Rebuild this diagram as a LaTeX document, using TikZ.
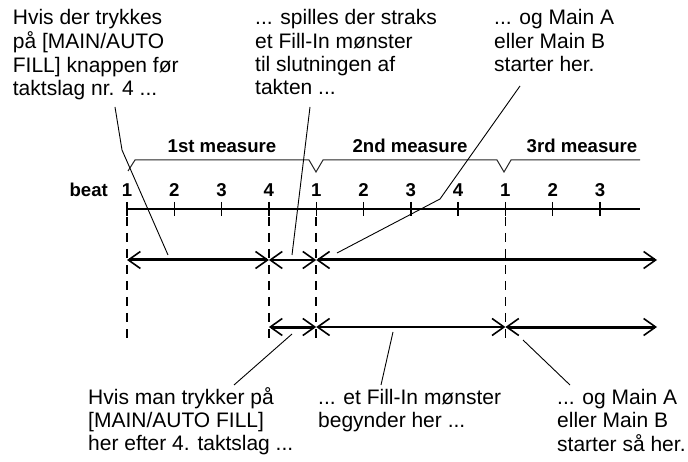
\documentclass[tikz,border=0pt]{standalone}
\usepackage{fontspec}
\setmainfont{Liberation Sans}
\usetikzlibrary{arrows.meta}
\newcommand{\txtlines}[1]{\begin{tabular}[t]{@{}l@{}}#1\end{tabular}}
\begin{document}
\begin{tikzpicture}[x=1pt,y=-1pt,
  callout/.style={inner sep=0pt, anchor=base west, font=\fontsize{21}{23.3}\selectfont},
  boldlbl/.style={inner sep=0pt, anchor=base, font=\bfseries\fontsize{18.6}{20}\selectfont},
  leader/.style={line width=0.9pt},
  brace/.style={line width=1pt, black!85, line join=miter},
  axis/.style={line width=1.8pt},
  tickmark/.style={line width=1.4pt},
  guide/.style={line width=1.6pt, dash pattern=on 9pt off 7pt},
  span/.style={line width=3pt},
  thinspan/.style={line width=1.3pt},
  >={Straight Barb[length=12pt,width=17pt,line width=1.6pt]},
]
\useasboundingbox (0,0) rectangle (688,462);

% beats
\foreach \i/\lab in {0/1,1/2,2/3,3/4,4/1,5/2,6/3,7/4,8/1,9/2,10/3} {
  \pgfmathsetmacro\bx{127+47.3*\i}
  \draw[tickmark] (\bx,202) -- (\bx,216);
  \node[boldlbl] (n\i) at (\bx,197) {\lab};
}
\node[boldlbl, anchor=base east] (beatlbl) at (108,197) {beat};

% measures
\node[boldlbl] (m1) at (222,153) {1st measure};
\node[boldlbl] (m2) at (410,153) {2nd measure};
\node[boldlbl] (m3) at (582,153) {3rd measure};
\draw[brace] (128,171) -- (135,160) -- (309,160) -- (316,172) -- (323,160)
  -- (497,160) -- (504,172) -- (511,160) -- (640,160);

% axis
\coordinate (ax0) at (127,209);
\coordinate (ax1) at (640,209);
\draw[axis] (ax0) -- (ax1);

% guides
\foreach \gx in {127,268.9,316.2,505.4} {
  \draw[guide] (\gx,217) -- (\gx,343);
}

% spans
\coordinate (a1) at (127,260);
\coordinate (a4) at (268.9,260);
\coordinate (a5) at (316.2,260);
\coordinate (aend) at (657,260);
\coordinate (b4) at (268.9,327);
\coordinate (b5) at (316.2,327);
\coordinate (b9) at (505.4,327);
\coordinate (bend) at (657,327);
\draw[span,<->] (a1) -- (a4);
\draw[thinspan,<->] (a4) -- (a5);
\draw[span,<->] (a5) -- (aend);
\draw[span,<->] (b4) -- (b5);
\draw[thinspan,<->] (b5) -- (b9);
\draw[span,<->] (b9) -- (bend);

% callout texts
\node[callout] (c1) at (12.7,25) {\txtlines{Hvis der trykkes\\på [MAIN/AUTO\\FILL] knappen før\\taktslag nr. 4 ...}};
\node[callout] (c2) at (255,25) {\txtlines{... spilles der straks\\et Fill-In mønster\\til slutningen af\\takten ...}};
\node[callout] (c3) at (494,25) {\txtlines{... og Main A\\eller Main B\\starter her.}};
\node[callout] (c4) at (88,404) {\txtlines{Hvis man trykker på\\{}[MAIN/AUTO FILL]\\her efter 4. taktslag ...}};
\node[callout] (c5) at (318,404) {\txtlines{... et Fill-In mønster\\begynder her ...}};
\node[callout] (c6) at (557,404) {\txtlines{... og Main A\\eller Main B\\starter så her.}};

% leaders
\coordinate (l1s) at (115,107); \coordinate (l1k) at (122,150); \coordinate (l1e) at (168,255);
\draw[leader] (l1s) -- (l1k) -- (l1e);
\coordinate (l2s) at (310,107); \coordinate (l2e) at (292,255);
\draw[leader] (l2s) -- (l2e);
\coordinate (l3s) at (520,86); \coordinate (l3k) at (440,199); \coordinate (l3e) at (337,253);
\draw[leader] (l3s) -- (l3k) -- (l3e);
\coordinate (l4s) at (292,334); \coordinate (l4e) at (234,385);
\draw[leader] (l4s) -- (l4e);
\coordinate (l5s) at (393,332); \coordinate (l5e) at (381,385);
\draw[leader] (l5s) -- (l5e);
\coordinate (l6s) at (523,340); \coordinate (l6e) at (570,385);
\draw[leader] (l6s) -- (l6e);
\end{tikzpicture}
\end{document}
